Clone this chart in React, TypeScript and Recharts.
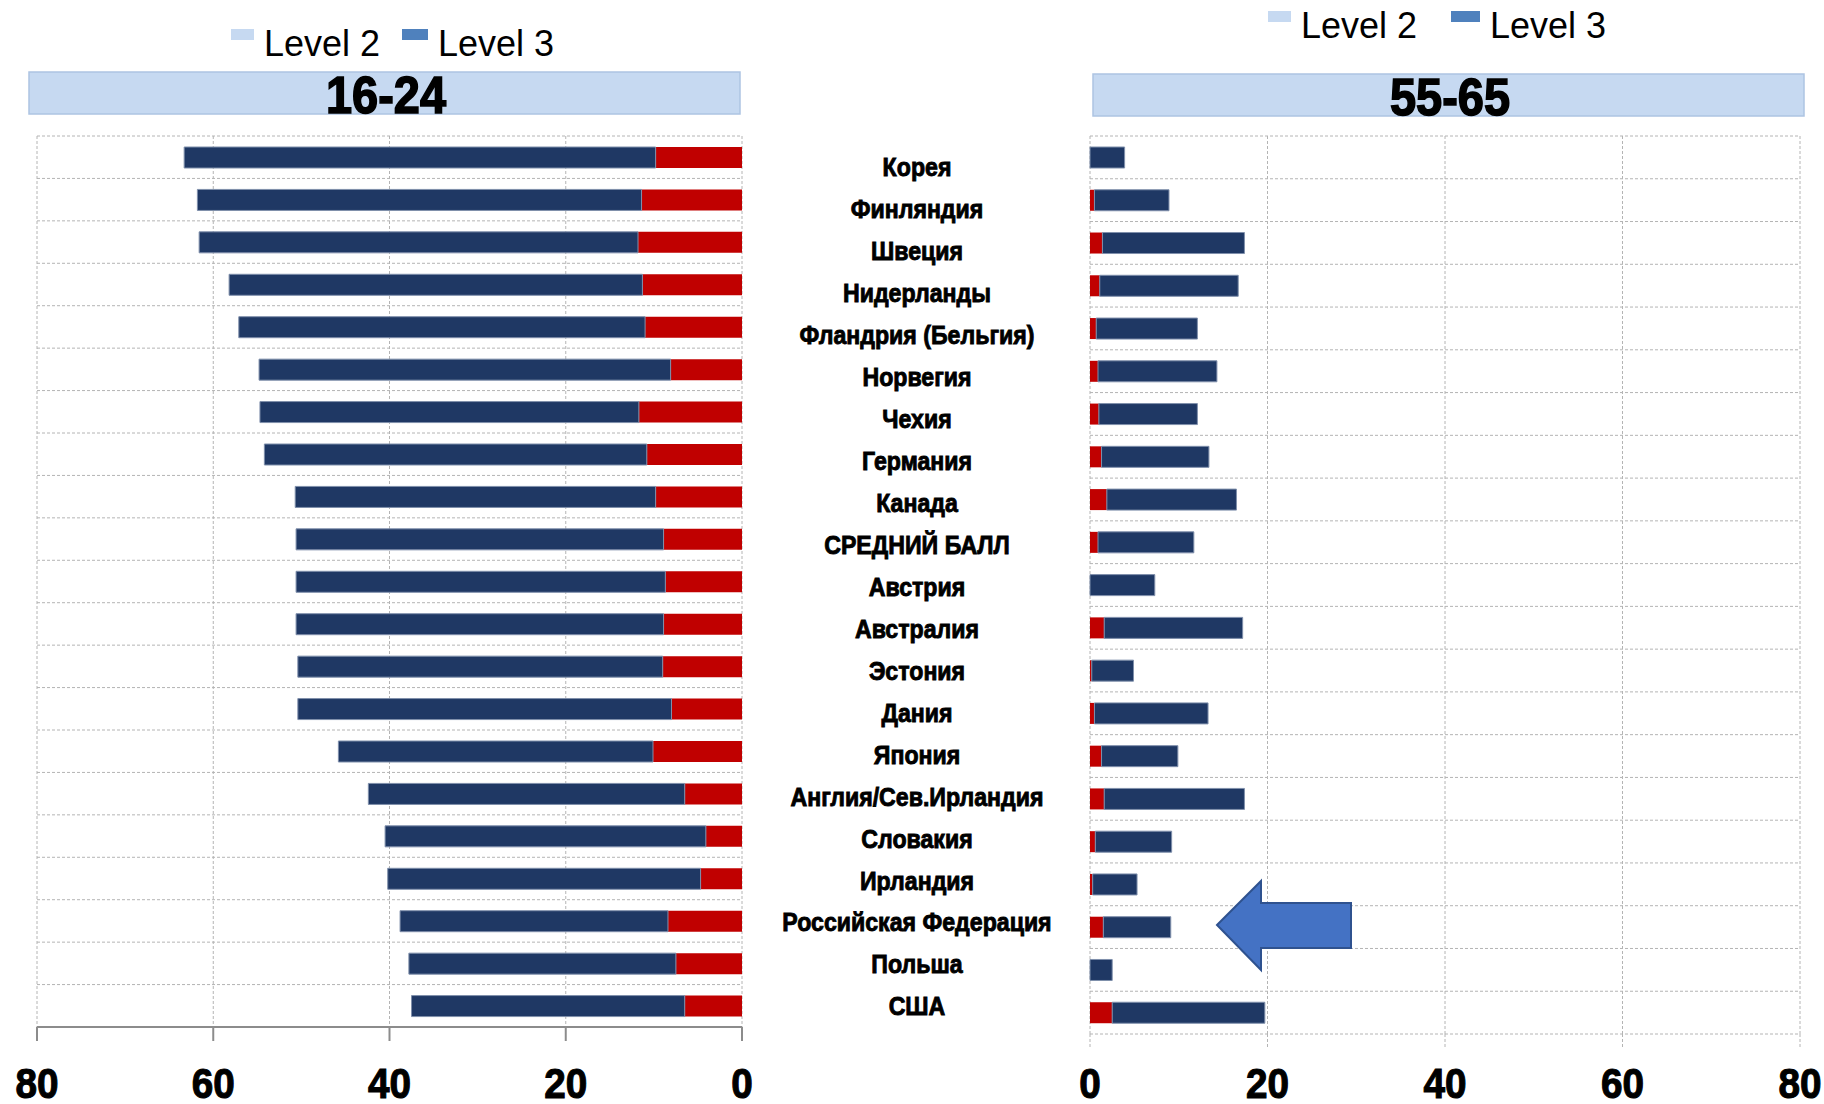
import React from 'react';
import { BarChart, Bar, XAxis, YAxis, CartesianGrid } from 'recharts';

// Countries, top to bottom
const countries = [
  'Корея',
  'Финляндия',
  'Швеция',
  'Нидерланды',
  'Фландрия (Бельгия)',
  'Норвегия',
  'Чехия',
  'Германия',
  'Канада',
  'СРЕДНИЙ БАЛЛ',
  'Австрия',
  'Австралия',
  'Эстония',
  'Дания',
  'Япония',
  'Англия/Сев.Ирландия',
  'Словакия',
  'Ирландия',
  'Российская Федерация',
  'Польша',
  'США',
];

// 16-24: red segment (drawn from zero) and navy segment stacked on it
const youngRed = [9.8, 11.4, 11.8, 11.3, 11.0, 8.1, 11.7, 10.8, 9.8, 8.9, 8.7, 8.9, 9.0, 8.0, 10.1, 6.5, 4.1, 4.7, 8.4, 7.5, 6.5];
const youngNavy = [53.5, 50.4, 49.8, 46.9, 46.1, 46.7, 43.0, 43.4, 40.9, 41.7, 41.9, 41.7, 41.4, 42.4, 35.7, 35.9, 36.4, 35.5, 30.4, 30.3, 31.0];

// 55-65
const seniorRed = [0, 0.5, 1.4, 1.1, 0.7, 0.9, 1.0, 1.3, 1.9, 0.9, 0, 1.6, 0.2, 0.5, 1.3, 1.6, 0.6, 0.3, 1.5, 0, 2.5];
const seniorNavy = [3.9, 8.4, 16.0, 15.6, 11.4, 13.4, 11.1, 12.1, 14.6, 10.8, 7.3, 15.6, 4.7, 12.8, 8.6, 15.8, 8.6, 5.0, 7.6, 2.5, 17.2];

const axisTicks = [0, 20, 40, 60, 80];
const legendNames = ['Level 2', 'Level 3'];
const groupTitles = ['16-24', '55-65'];

const RED = '#C00000';
const NAVY = '#1F3864';
const GRID = '#b4b4b4';
const FONT = "'Liberation Sans', Arial, sans-serif";

const youngRows = countries.map((country, i) => ({ country, red: youngRed[i], navy: youngNavy[i] }));
const seniorRows = countries.map((country, i) => ({ country, red: seniorRed[i], navy: seniorNavy[i] }));

// horizontal grid lines sit on the row boundaries, not on the row centres
const rowLines = (props: any) => {
  const offset = props && props.offset;
  if (!offset) return [];
  const n = countries.length;
  return Array.from({ length: n + 1 }, (_, i) => offset.top + (offset.height * i) / n);
};

const numberTick = (drop: number) => (props: any) => {
  const { x, y, payload } = props;
  return (
    <g transform={`translate(${x},${y + drop}) scale(0.9,1)`}>
      <text textAnchor="middle" fontFamily={FONT} fontWeight={700} fontSize={43} fill="#000" stroke="#000" strokeWidth={1.1}>
        {payload.value}
      </text>
    </g>
  );
};

const NameTick = (props: any) => {
  const { x, y, payload } = props;
  return (
    <g transform={`translate(${x - 173},${y}) scale(0.89,1)`}>
      <text textAnchor="middle" dy="0.36em" fontFamily={FONT} fontWeight={700} fontSize={26} fill="#000" stroke="#000" strokeWidth={0.9}>
        {payload.value}
      </text>
    </g>
  );
};

const YoungChart = () => (
  <BarChart
    width={760}
    height={1104}
    data={youngRows}
    layout="vertical"
    margin={{ top: 136, right: 18, bottom: 0, left: 37 }}
  >
    <CartesianGrid stroke={GRID} strokeDasharray="3 2" horizontalCoordinatesGenerator={rowLines} />
    <XAxis
      type="number"
      domain={[0, 80]}
      ticks={axisTicks}
      interval={0}
      reversed
      height={77}
      tickSize={14}
      tickMargin={0}
      axisLine={{ stroke: '#8c8c8c', strokeWidth: 2 }}
      tickLine={{ stroke: '#8c8c8c', strokeWidth: 2 }}
      tick={numberTick(57)}
    />
    <YAxis type="category" dataKey="country" hide />
    <Bar dataKey="red" stackId="a" fill={RED} barSize={21} isAnimationActive={false} />
    <Bar dataKey="navy" stackId="a" fill={NAVY} stroke="#7f8fab" strokeWidth={1} barSize={21} isAnimationActive={false} />
  </BarChart>
);

const SeniorChart = () => (
  <BarChart
    width={1080}
    height={1104}
    data={seniorRows}
    layout="vertical"
    margin={{ top: 136, right: 24, bottom: 0, left: 0 }}
  >
    <CartesianGrid yAxisId="rows" stroke={GRID} strokeDasharray="3 2" horizontalCoordinatesGenerator={rowLines} />
    <XAxis
      type="number"
      domain={[0, 80]}
      ticks={axisTicks}
      interval={0}
      height={70}
      tickSize={13}
      tickMargin={0}
      axisLine={false}
      tickLine={{ stroke: GRID, strokeDasharray: '3 2' }}
      tick={numberTick(51)}
    />
    <YAxis yAxisId="rows" type="category" dataKey="country" hide />
    <YAxis
      yAxisId="names"
      type="category"
      dataKey="country"
      width={346}
      padding={{ top: 10, bottom: 7 }}
      axisLine={false}
      tickLine={false}
      tickSize={0}
      tickMargin={0}
      interval={0}
      tick={NameTick}
    />
    <Bar yAxisId="rows" dataKey="red" stackId="a" fill={RED} barSize={21} isAnimationActive={false} />
    <Bar yAxisId="rows" dataKey="navy" stackId="a" fill={NAVY} stroke="#7f8fab" strokeWidth={1} barSize={21} isAnimationActive={false} />
  </BarChart>
);

const Legend = ({ x, y, swatches }: { x: number; y: number; swatches: number[] }) => (
  <g transform={`translate(${x},${y})`}>
    <rect x={0} y={0} width={23} height={11} fill="#C6D9F1" />
    <text x={33} y={27} fontFamily={FONT} fontSize={37} textLength={116} lengthAdjust="spacingAndGlyphs" fill="#000">
      {legendNames[0]}
    </text>
    <rect x={swatches[0]} y={0} width={swatches[1]} height={11} fill="#4F81BD" />
    <text x={swatches[0] + swatches[1] + 10} y={27} fontFamily={FONT} fontSize={37} textLength={116} lengthAdjust="spacingAndGlyphs" fill="#000">
      {legendNames[1]}
    </text>
  </g>
);

const TitleBar = ({ x, y, label }: { x: number; y: number; label: string }) => (
  <g>
    <rect x={x} y={y} width={711} height={42} fill="#C6D9F1" stroke="#adc4e2" strokeWidth={1.5} />
    <text
      x={x + 357}
      y={y + 41}
      textAnchor="middle"
      fontFamily={FONT}
      fontWeight={700}
      fontSize={52}
      textLength={120}
      lengthAdjust="spacingAndGlyphs"
      fill="#000"
      stroke="#000"
      strokeWidth={1.6}
    >
      {label}
    </text>
  </g>
);

export default function App() {
  return (
    <div style={{ position: 'absolute', left: 0, top: 0, width: 1824, height: 1104, background: '#fff', fontFamily: FONT }}>
      <div style={{ position: 'absolute', left: 0, top: 0 }}>
        <YoungChart />
      </div>
      <div style={{ position: 'absolute', left: 744, top: 0 }}>
        <SeniorChart />
      </div>
      <svg width={1824} height={1104} style={{ position: 'absolute', left: 0, top: 0, pointerEvents: 'none' }}>
        <Legend x={231} y={29} swatches={[171, 26]} />
        <Legend x={1268} y={11} swatches={[183, 29]} />
        <TitleBar x={29} y={72} label={groupTitles[0]} />
        <TitleBar x={1093} y={74} label={groupTitles[1]} />
        <polygon
          points="1217,925 1261,881 1261,903 1351,903 1351,948 1261,948 1261,970"
          fill="#4472C4"
          stroke="#2F528F"
          strokeWidth={2}
          strokeLinejoin="miter"
        />
      </svg>
    </div>
  );
}
